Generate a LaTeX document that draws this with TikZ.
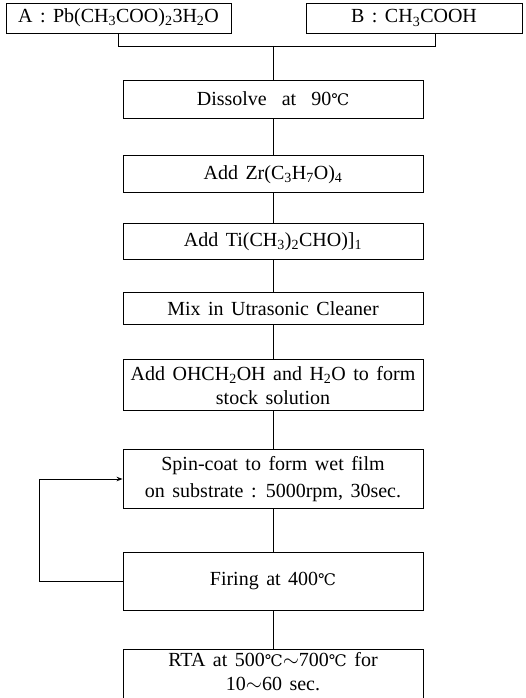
\documentclass[tikz,border=0pt]{standalone}
\usepackage{fontspec}
\setmainfont{Liberation Serif}[WordSpace=1.5]
\newfontfamily\symfont{DejaVu Serif}
\usetikzlibrary{arrows.meta,positioning}
\newcommand{\degc}{{\symfont\fontsize{16}{20}\selectfont ℃}}

\begin{document}
\begin{tikzpicture}[
    x=1pt, y=1pt,
    box/.style={draw, line width=0.9pt, minimum width=300pt, inner sep=3pt, align=center, font=\fontsize{20}{24}\selectfont},
    src/.style={draw, line width=0.9pt, minimum height=30pt, inner sep=2pt, font=\fontsize{20}{24}\selectfont},
    link/.style={line width=0.9pt},
    arr/.style={-{Stealth[length=6pt,width=4.5pt]}, line width=0.9pt},
]
\clip[use as bounding box] (0,0) rectangle (526,-698);

\node[src, minimum width=225pt] (srca) at (118.5,-18) {A : Pb(CH\textsubscript{3}COO)\textsubscript{2}3H\textsubscript{2}O};
\node[src, minimum width=216pt] (srcb) at (414,-18) {B : CH\textsubscript{3}COOH};
\coordinate (join) at (273,-46);

\node[box, minimum height=38pt] (dis) at (273,-99) {Dissolve \ at \ 90\degc};
\node[box, minimum height=37pt, below=37pt of dis] (addzr) {Add Zr(C\textsubscript{3}H\textsubscript{7}O)\textsubscript{4}};
\node[box, minimum height=36pt, below=30pt of addzr] (addti) {Add Ti(CH\textsubscript{3})\textsubscript{2}CHO)]\textsubscript{1}};
\node[box, minimum height=32pt, below=32pt of addti] (mix) {Mix in Utrasonic Cleaner};
\node[box, minimum height=51pt, below=34pt of mix] (stock) {Add OHCH\textsubscript{2}OH and H\textsubscript{2}O to form\\stock solution};
\node[box, minimum height=59pt, below=38pt of stock, font=\fontsize{20}{27}\selectfont] (spin) {Spin-coat to form wet film\\on substrate : 5000rpm, 30sec.};
\node[box, minimum height=58pt, below=43pt of spin] (fire) {Firing at 400\degc};
\node[box, minimum height=70pt, below=38pt of fire] (rta) {RTA at 500\degc$\sim$700\degc\ for\\10$\sim$60 sec.\\[10pt]};

% sources merge into the first step
\draw[link] (srca) |- (join);
\draw[link] ([xshift=21pt]srcb.south) |- (join);
\draw[link] (join) -- (dis);

\draw[link] (dis) -- (addzr);
\draw[link] (addzr) -- (addti);
\draw[link] (addti) -- (mix);
\draw[link] (mix) -- (stock);
\draw[link] (stock) -- (spin);
\draw[link] (spin) -- (fire);
\draw[link] (fire) -- (rta);

% repeat coating
\draw[arr] (fire.west) -- ++(-83,0) |- (spin.west);
\end{tikzpicture}
\end{document}
